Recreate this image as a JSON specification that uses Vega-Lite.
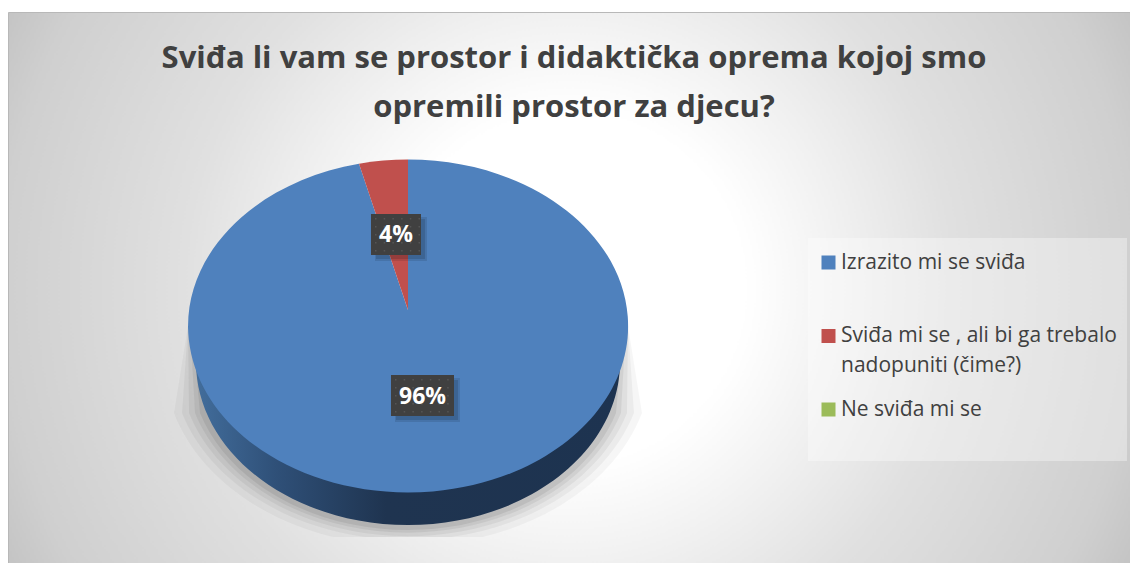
{"$schema":"https://vega.github.io/schema/vega-lite/v6.json","width":1122,"height":551,"autosize":"none","padding":{"left":8,"top":12,"right":0,"bottom":0},"background":"#ffffff","view":{"stroke":"#b8b8b8","strokeWidth":1,"fill":{"gradient":"radial","x1":0.5,"y1":0.5,"r1":0,"x2":0.5,"y2":0.5,"r2":0.557,"stops":[{"offset":0,"color":"#ffffff"},{"offset":0.28,"color":"#ffffff"},{"offset":0.445,"color":"#f0f0f0"},{"offset":0.616,"color":"#e0e0e0"},{"offset":0.91,"color":"#cfcfcf"},{"offset":1,"color":"#c4c4c4"}]}},"title":{"text":["Sviđa li vam se prostor i didaktička oprema kojoj smo","opremili prostor za djecu?"],"font":"Open Sans","fontSize":31,"fontWeight":"bold","color":"#404040","anchor":"middle","dx":5,"offset":-111.5,"lineHeight":49},"data":{"values":[{"category":"Izrazito mi se sviđa","value":0.96},{"category":"Sviđa mi se , ali bi ga trebalo nadopuniti (čime?)","value":0.04},{"category":"Ne sviđa mi se","value":0}]},"encoding":{"x":{"datum":0.3565,"type":"quantitative","scale":{"domain":[0,1]},"axis":null},"y":{"datum":0.5699,"type":"quantitative","scale":{"domain":[0,1],"reverse":true},"axis":null}},"resolve":{"scale":{"shape":"independent"}},"layer":[{"data":{"values":[{"part":"legend panel"}]},"mark":{"type":"point","shape":"M400,-88H719V135H400Z","size":4,"filled":true,"fill":"#ffffff","opacity":0.35,"strokeWidth":0}},{"data":{"values":[{"part":"shadow"}]},"mark":{"type":"point","shape":"M-220,0L-234,87A244,184 0 0 0 -75,211L75,211A244,184 0 0 0 234,87L220,0Z","size":4,"filled":true,"fill":"#000000","opacity":0.035,"strokeWidth":0}},{"data":{"values":[{"part":"shadow"}]},"mark":{"type":"point","shape":"M-220,0L-226,87A236,178 0 0 0 -43,211L43,211A236,178 0 0 0 226,87L220,0Z","size":4,"filled":true,"fill":"#000000","opacity":0.045,"strokeWidth":0}},{"data":{"values":[{"part":"shadow"}]},"mark":{"type":"point","shape":"M-220,0L-219,87A229,174 0 0 0 219,87L220,0Z","size":4,"filled":true,"fill":"#000000","opacity":0.05,"strokeWidth":0}},{"data":{"values":[{"part":"shadow"}]},"mark":{"type":"point","shape":"M-218,0L-213,87A223,170 0 0 0 213,87L218,0Z","size":4,"filled":true,"fill":"#000000","opacity":0.06,"strokeWidth":0}},{"data":{"values":[{"part":"shadow"}]},"mark":{"type":"point","shape":"M-216,0L-208,87A218,167 0 0 0 208,87L216,0Z","size":4,"filled":true,"fill":"#000000","opacity":0.07,"strokeWidth":0}},{"data":{"values":[{"part":"pie side"}]},"mark":{"type":"point","shape":"M-220,0L-212,36A212,163 0 0 0 212,36L220,0Z","size":4,"filled":true,"opacity":1,"strokeWidth":0,"fill":{"gradient":"linear","x1":0,"y1":0,"x2":1,"y2":0,"stops":[{"offset":0,"color":"#44709f"},{"offset":0.2,"color":"#2f5078"},{"offset":0.45,"color":"#1f3450"},{"offset":1,"color":"#1d3350"}]}}},{"mark":{"type":"point","size":4,"filled":true,"opacity":1,"strokeWidth":0},"encoding":{"color":{"field":"category","type":"nominal","sort":null,"scale":{"domain":["Izrazito mi se sviđa","Sviđa mi se , ali bi ga trebalo nadopuniti (čime?)","Ne sviđa mi se"],"range":["#4f81bd","#c0504d","#9bbb59"]},"legend":{"title":null,"orient":"none","legendX":810,"legendY":240,"symbolType":"square","symbolSize":196,"symbolStrokeWidth":0,"symbolOpacity":1,"labelFont":"Open Sans","labelFontSize":21,"labelColor":"#404040","labelLimit":400,"labelOffset":2,"rowPadding":21.5,"gridAlign":"all","labelExpr":"datum.label == 'Sviđa mi se , ali bi ga trebalo nadopuniti (čime?)' ? ['Sviđa mi se , ali bi ga trebalo','nadopuniti (čime?)'] : datum.label","encode":{"labels":{"update":{"lineHeight":{"value":30}}}}}},"shape":{"field":"category","type":"nominal","legend":null,"scale":{"domain":["Izrazito mi se sviđa","Sviđa mi se , ali bi ga trebalo nadopuniti (čime?)","Ne sviđa mi se"],"range":["M0,-16L0,-166.5A220,166.5 0 1 1 -49,-162.3Z","M0,-16L-49,-162.3A220,166.5 0 0 1 0,-166.5Z","M0,0"]}}}},{"transform":[{"filter":"datum.value > 0"}],"mark":{"type":"point","size":4,"filled":true,"fill":"#000000","opacity":0.1,"strokeWidth":0},"encoding":{"shape":{"field":"category","type":"nominal","legend":null,"scale":{"domain":["Izrazito mi se sviđa","Sviđa mi se , ali bi ga trebalo nadopuniti (čime?)"],"range":["M-13,52H52V96H-13Z","M-33,-109H19V-65H-33Z"]}}}},{"transform":[{"filter":"datum.value > 0"}],"mark":{"type":"point","size":4,"filled":true,"fill":"#000000","opacity":0.13,"strokeWidth":0},"encoding":{"shape":{"field":"category","type":"nominal","legend":null,"scale":{"domain":["Izrazito mi se sviđa","Sviđa mi se , ali bi ga trebalo nadopuniti (čime?)"],"range":["M-12,54H50V94H-12Z","M-32,-107H17V-67H-32Z"]}}}},{"transform":[{"filter":"datum.value > 0"}],"mark":{"type":"point","size":4,"filled":true,"fill":"#404040","opacity":1,"strokeWidth":0},"encoding":{"shape":{"field":"category","type":"nominal","legend":null,"scale":{"domain":["Izrazito mi se sviđa","Sviđa mi se , ali bi ga trebalo nadopuniti (čime?)"],"range":["M-17,49H46V90H-17Z","M-37,-112H13V-71H-37Z"]}}}},{"transform":[{"filter":"datum.value > 0"}],"mark":{"type":"point","size":4,"filled":true,"fill":"#555555","opacity":1,"strokeWidth":0},"encoding":{"shape":{"field":"category","type":"nominal","legend":null,"scale":{"domain":["Izrazito mi se sviđa","Sviđa mi se , ali bi ga trebalo nadopuniti (čime?)"],"range":["M-13,53h1.5v1.5h-1.5v-1.5zm8.7,0h1.5v1.5h-1.5v-1.5zm8.7,0h1.5v1.5h-1.5v-1.5zm8.7,0h1.5v1.5h-1.5v-1.5zm8.7,0h1.5v1.5h-1.5v-1.5zm8.7,0h1.5v1.5h-1.5v-1.5zm8.7,0h1.5v1.5h-1.5v-1.5zM-13,61h1.5v1.5h-1.5v-1.5zm8.7,0h1.5v1.5h-1.5v-1.5zm8.7,0h1.5v1.5h-1.5v-1.5zm8.7,0h1.5v1.5h-1.5v-1.5zm8.7,0h1.5v1.5h-1.5v-1.5zm8.7,0h1.5v1.5h-1.5v-1.5zm8.7,0h1.5v1.5h-1.5v-1.5zM-13,69h1.5v1.5h-1.5v-1.5zm8.7,0h1.5v1.5h-1.5v-1.5zm8.7,0h1.5v1.5h-1.5v-1.5zm8.7,0h1.5v1.5h-1.5v-1.5zm8.7,0h1.5v1.5h-1.5v-1.5zm8.7,0h1.5v1.5h-1.5v-1.5zm8.7,0h1.5v1.5h-1.5v-1.5zM-13,77h1.5v1.5h-1.5v-1.5zm8.7,0h1.5v1.5h-1.5v-1.5zm8.7,0h1.5v1.5h-1.5v-1.5zm8.7,0h1.5v1.5h-1.5v-1.5zm8.7,0h1.5v1.5h-1.5v-1.5zm8.7,0h1.5v1.5h-1.5v-1.5zm8.7,0h1.5v1.5h-1.5v-1.5zM-13,85h1.5v1.5h-1.5v-1.5zm8.7,0h1.5v1.5h-1.5v-1.5zm8.7,0h1.5v1.5h-1.5v-1.5zm8.7,0h1.5v1.5h-1.5v-1.5zm8.7,0h1.5v1.5h-1.5v-1.5zm8.7,0h1.5v1.5h-1.5v-1.5zm8.7,0h1.5v1.5h-1.5v-1.5z","M-33,-108h1.5v1.5h-1.5v-1.5zm8.7,0h1.5v1.5h-1.5v-1.5zm8.7,0h1.5v1.5h-1.5v-1.5zm8.7,0h1.5v1.5h-1.5v-1.5zm8.7,0h1.5v1.5h-1.5v-1.5zm8.7,0h1.5v1.5h-1.5v-1.5zM-33,-100h1.5v1.5h-1.5v-1.5zm8.7,0h1.5v1.5h-1.5v-1.5zm8.7,0h1.5v1.5h-1.5v-1.5zm8.7,0h1.5v1.5h-1.5v-1.5zm8.7,0h1.5v1.5h-1.5v-1.5zm8.7,0h1.5v1.5h-1.5v-1.5zM-33,-92h1.5v1.5h-1.5v-1.5zm8.7,0h1.5v1.5h-1.5v-1.5zm8.7,0h1.5v1.5h-1.5v-1.5zm8.7,0h1.5v1.5h-1.5v-1.5zm8.7,0h1.5v1.5h-1.5v-1.5zm8.7,0h1.5v1.5h-1.5v-1.5zM-33,-84h1.5v1.5h-1.5v-1.5zm8.7,0h1.5v1.5h-1.5v-1.5zm8.7,0h1.5v1.5h-1.5v-1.5zm8.7,0h1.5v1.5h-1.5v-1.5zm8.7,0h1.5v1.5h-1.5v-1.5zm8.7,0h1.5v1.5h-1.5v-1.5zM-33,-76h1.5v1.5h-1.5v-1.5zm8.7,0h1.5v1.5h-1.5v-1.5zm8.7,0h1.5v1.5h-1.5v-1.5zm8.7,0h1.5v1.5h-1.5v-1.5zm8.7,0h1.5v1.5h-1.5v-1.5zm8.7,0h1.5v1.5h-1.5v-1.5z"]}}}},{"transform":[{"filter":"datum.value > 0.5"}],"mark":{"type":"text","font":"Open Sans","fontWeight":"bold","fontSize":23,"color":"#ffffff","dx":14.5,"dy":71},"encoding":{"text":{"field":"value","type":"quantitative","format":".0%"}}},{"transform":[{"filter":"datum.value > 0 && datum.value < 0.5"}],"mark":{"type":"text","font":"Open Sans","fontWeight":"bold","fontSize":23,"color":"#ffffff","dx":-12,"dy":-91},"encoding":{"text":{"field":"value","type":"quantitative","format":".0%"}}}]}
